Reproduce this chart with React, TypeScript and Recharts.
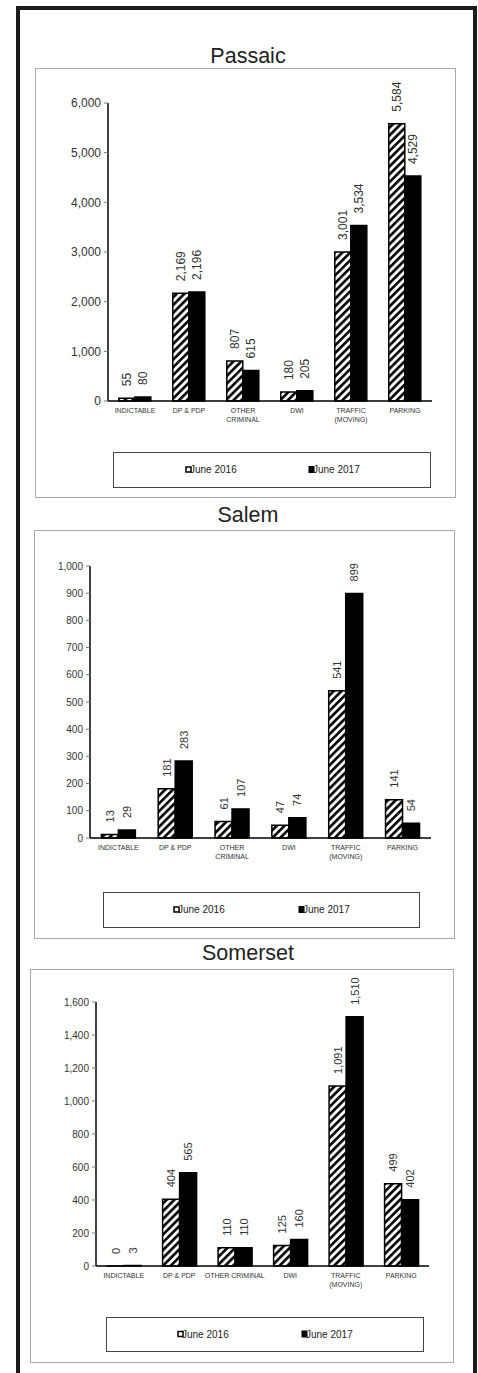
import { Bar, BarChart, LabelList, XAxis, YAxis } from "recharts";

// category labels ("\n" = line break on the axis)
const CATS_WRAPPED = ["INDICTABLE", "DP & PDP", "OTHER\nCRIMINAL", "DWI", "TRAFFIC\n(MOVING)", "PARKING"];
const CATS_SOMERSET = ["INDICTABLE", "DP & PDP", "OTHER CRIMINAL", "DWI", "TRAFFIC\n(MOVING)", "PARKING"];
const SERIES_NAMES = ["June 2016", "June 2017"];

const PASSAIC_2016 = [55, 2169, 807, 180, 3001, 5584];
const PASSAIC_2017 = [80, 2196, 615, 205, 3534, 4529];
const PASSAIC_TICKS = [0, 1000, 2000, 3000, 4000, 5000, 6000];

const SALEM_2016 = [13, 181, 61, 47, 541, 141];
const SALEM_2017 = [29, 283, 107, 74, 899, 54];
const SALEM_TICKS = [0, 100, 200, 300, 400, 500, 600, 700, 800, 900, 1000];

const SOMERSET_2016 = [0, 404, 110, 125, 1091, 499];
const SOMERSET_2017 = [3, 565, 110, 160, 1510, 402];
const SOMERSET_TICKS = [0, 200, 400, 600, 800, 1000, 1200, 1400, 1600];

const FONT = "Arial, 'Liberation Sans', sans-serif";
const YW = 60;
const XH = 30;

type Box = { x: number; y: number; w: number; h: number };
type Plot = { x0: number; x1: number; y0: number; y1: number };

type PanelProps = {
  id: string;
  title: string;
  titleY: number;
  cats: string[];
  a: number[];
  b: number[];
  ticks: number[];
  box: Box;
  plot: Plot;
  legend: Box & { i1: number; i2: number };
  tickFont: number;
  labelFont: number;
};

function CatTick(props: any) {
  const { x, y, payload } = props;
  const lines = String(payload.value).split("\n");
  return (
    <text x={x} y={y} textAnchor="middle" fontSize={7} fill="#333" fontFamily={FONT}>
      {lines.map((l, i) => (
        <tspan key={i} x={x} dy={i === 0 ? 10 : 9}>
          {l}
        </tspan>
      ))}
    </text>
  );
}

function valueLabel(fontSize: number) {
  return (p: any) => {
    const cx = Number(p.x) + Number(p.width) / 2;
    const top = Number(p.y) - 12;
    return (
      <text
        x={cx}
        y={top}
        transform={`rotate(-90 ${cx} ${top})`}
        textAnchor="start"
        dominantBaseline="central"
        fontSize={fontSize}
        fill="#333"
        fontFamily={FONT}
      >
        {Number(p.value).toLocaleString("en-US")}
      </text>
    );
  };
}

// zero values still need a (flat) bar so their label gets drawn
const flatZero = (v: any) => (Number(v) === 0 ? 0.01 : 0);

function Panel(props: PanelProps) {
  const { id, cats, a, b, ticks, box, plot, tickFont, labelFont } = props;
  const data = cats.map((c, i) => ({ cat: c, a: a[i], b: b[i] }));
  return (
    <div style={{ position: "absolute", left: box.x, top: box.y, width: box.w, height: box.h }}>
      <BarChart
        width={box.w}
        height={box.h}
        data={data}
        barCategoryGap="20%"
        barGap={0}
        margin={{
          top: plot.y0 - box.y,
          right: box.x + box.w - plot.x1,
          bottom: box.y + box.h - plot.y1 - XH,
          left: plot.x0 - box.x - YW,
        }}
      >
        <defs>
          <pattern
            id={`hatch-${id}`}
            patternUnits="userSpaceOnUse"
            width="5.5"
            height="5.5"
            patternTransform="rotate(45)"
          >
            <rect width="5.5" height="5.5" fill="#fff" />
            <rect width="2.6" height="5.5" fill="#000" />
          </pattern>
        </defs>
        <XAxis
          dataKey="cat"
          interval={0}
          height={XH}
          tickLine={false}
          tickSize={0}
          axisLine={{ stroke: "#000", strokeWidth: 1.5 }}
          tick={<CatTick />}
        />
        <YAxis
          width={YW}
          domain={[ticks[0], ticks[ticks.length - 1]]}
          ticks={ticks}
          interval={0}
          tickSize={4}
          tickMargin={3}
          tickLine={{ stroke: "#777" }}
          axisLine={{ stroke: "#000", strokeWidth: 1.5 }}
          tickFormatter={(v) => Number(v).toLocaleString("en-US")}
          tick={{ fontSize: tickFont, fill: "#333", fontFamily: FONT }}
        />
        <Bar
          dataKey="a"
          fill={`url(#hatch-${id})`}
          stroke="#000"
          strokeWidth={1.5}
          minPointSize={flatZero}
          isAnimationActive={false}
        >
          <LabelList dataKey="a" content={valueLabel(labelFont)} />
        </Bar>
        <Bar
          dataKey="b"
          fill="#000"
          stroke="#000"
          strokeWidth={1.5}
          minPointSize={flatZero}
          isAnimationActive={false}
        >
          <LabelList dataKey="b" content={valueLabel(labelFont)} />
        </Bar>
      </BarChart>
    </div>
  );
}

function Frame({ panels }: { panels: PanelProps[] }) {
  return (
    <svg width={478} height={1373} style={{ position: "absolute", left: 0, top: 0 }}>
      <rect x={18} y={8} width={457} height={1400} fill="#fff" stroke="#1c1c1c" strokeWidth={4} />
      {panels.map((p) => {
        const lg = p.legend;
        const ty = lg.y + lg.h / 2 + 3.5;
        return (
          <g key={p.id}>
            <text x={248} y={p.titleY} textAnchor="middle" fontSize={21.5} fill="#222" fontFamily={FONT}>
              {p.title}
            </text>
            <rect x={p.box.x + 0.5} y={p.box.y + 0.5} width={p.box.w} height={p.box.h} fill="none" stroke="#aaa" />
            <rect x={lg.x + 0.5} y={lg.y + 0.5} width={lg.w} height={lg.h} fill="none" stroke="#444" />
            <rect x={lg.i1} y={ty - 6} width={5} height={5} fill="#fff" stroke="#000" strokeWidth={1.5} />
            <text x={lg.i1 + 4} y={ty} fontSize={10} fill="#222" fontFamily={FONT}>
              {SERIES_NAMES[0]}
            </text>
            <rect x={lg.i2} y={ty - 6.5} width={5} height={6} fill="#000" stroke="#000" strokeWidth={1} />
            <text x={lg.i2 + 4} y={ty} fontSize={10} fill="#222" fontFamily={FONT}>
              {SERIES_NAMES[1]}
            </text>
          </g>
        );
      })}
    </svg>
  );
}

const PANELS: PanelProps[] = [
  {
    id: "passaic",
    title: "Passaic",
    titleY: 63,
    cats: CATS_WRAPPED,
    a: PASSAIC_2016,
    b: PASSAIC_2017,
    ticks: PASSAIC_TICKS,
    box: { x: 35, y: 68, w: 420, h: 429 },
    plot: { x0: 108, x1: 432, y0: 103, y1: 401 },
    legend: { x: 113, y: 452, w: 317, h: 35, i1: 186, i2: 309 },
    tickFont: 12,
    labelFont: 12,
  },
  {
    id: "salem",
    title: "Salem",
    titleY: 522,
    cats: CATS_WRAPPED,
    a: SALEM_2016,
    b: SALEM_2017,
    ticks: SALEM_TICKS,
    box: { x: 34, y: 530, w: 420, h: 408 },
    plot: { x0: 90, x1: 431, y0: 566, y1: 838 },
    legend: { x: 103, y: 892, w: 316, h: 35, i1: 174, i2: 299 },
    tickFont: 10,
    labelFont: 11,
  },
  {
    id: "somerset",
    title: "Somerset",
    titleY: 960,
    cats: CATS_SOMERSET,
    a: SOMERSET_2016,
    b: SOMERSET_2017,
    ticks: SOMERSET_TICKS,
    box: { x: 30, y: 969, w: 423, h: 393 },
    plot: { x0: 96, x1: 429, y0: 1002, y1: 1266 },
    legend: { x: 106, y: 1317, w: 317, h: 34, i1: 178, i2: 302 },
    tickFont: 10,
    labelFont: 11,
  },
];

export default function App() {
  return (
    <div style={{ position: "absolute", left: 0, top: 0, width: 478, height: 1373, background: "#fff", overflow: "hidden" }}>
      <Frame panels={PANELS} />
      {PANELS.map((p) => (
        <Panel key={p.id} {...p} />
      ))}
    </div>
  );
}
